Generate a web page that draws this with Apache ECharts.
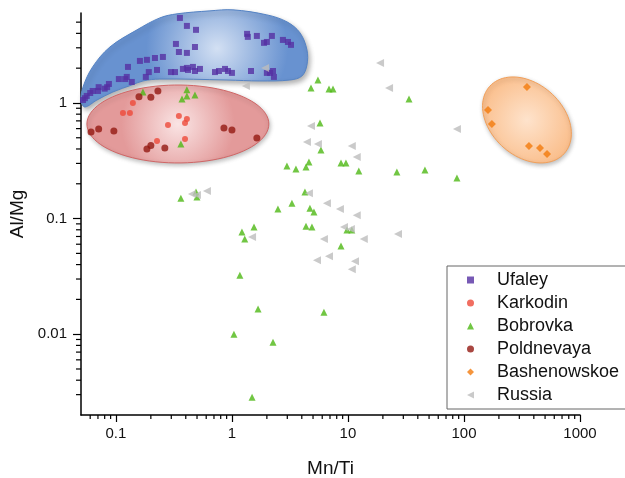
<!DOCTYPE html>
<html>
<head>
<meta charset="utf-8">
<title>Al/Mg vs Mn/Ti</title>
<script src="https://cdn.jsdelivr.net/npm/echarts@6/dist/echarts.min.js"></script>
<style>
  html, body { margin: 0; padding: 0; background: #fff; }
  #chart { width: 625px; height: 478px; }
</style>
</head>
<body>
<div id="chart"></div>
<script>
// points are [Mn/Ti, Al/Mg]
const ufaley = [[0.356,5.44],[0.409,4.64],[0.49,4.29],[0.329,3.24],[0.48,3.05],[0.349,2.76],[0.409,2.71],
  [0.254,2.5],[0.217,2.45],[0.185,2.36],[0.161,2.31],[0.127,2.05],[0.192,1.85],[0.226,1.93],[0.298,1.85],
  [0.323,1.85],[0.378,1.97],[0.409,2.01],[0.461,2.05],[0.48,1.89],[0.53,1.97],[0.418,1.93],[0.714,1.85],
  [0.773,1.89],[0.871,1.97],[0.924,1.89],[1.0,1.82],[1.46,1.89],[2.0,1.82],[2.26,1.89],[2.3,1.68],[2.13,1.82],
  [1.35,3.96],[1.37,3.73],[1.64,3.8],[2.21,3.8],[2.0,3.37],[1.89,3.31],[2.75,3.51],[3.04,3.37],[3.23,3.18],
  [0.181,1.68],[0.137,1.52],[0.106,1.61],[0.12,1.61],[0.124,1.68],[0.087,1.46],[0.084,1.37],[0.08,1.33],
  [0.071,1.37],[0.07,1.27],[0.063,1.27],[0.06,1.22],[0.056,1.15],[0.054,1.10],[0.052,1.06]];

const karkodin = [[0.14,1.0],[0.115,0.819],[0.132,0.819],[0.349,0.772],[0.409,0.727],[0.394,0.671],
  [0.281,0.645],[0.394,0.488],[0.226,0.469]];

const bobrovka = [[0.171,1.245],[0.409,1.30],[0.409,1.15],[0.371,1.08],[0.48,1.17],[0.363,0.442],[5.51,1.58],
  [4.80,1.35],[6.86,1.32],[7.43,1.32],[33.6,1.08],[5.74,0.671],[5.85,0.392],[2.98,0.285],[3.56,0.268],
  [4.35,0.279],[4.61,0.308],[8.71,0.303],[9.61,0.303],[12.4,0.258],[26.4,0.253],[46.1,0.263],[87,0.224],
  [4.26,0.170],[3.29,0.136],[2.49,0.121],[4.70,0.123],[5.09,0.114],[0.363,0.150],[0.49,0.17],[0.499,0.154],
  [1.22,0.0764],[1.55,0.0844],[1.29,0.0665],[4.35,0.086],[4.89,0.0844],[9.8,0.0795],[10.8,0.0795],
  [8.71,0.0578],[1.17,0.0324],[1.68,0.0165],[6.21,0.0155],[1.04,0.0100],[2.26,0.0085],[1.49,0.00285]];

const poldnevaya = [[0.23,1.27],[0.158,1.13],[0.2,1.12],[0.061,0.561],[0.071,0.596],[0.096,0.572],
  [0.185,0.40],[0.2,0.429],[0.264,0.408],[0.853,0.608],[1.0,0.584],[1.64,0.498]];

const bashenowskoe = [[349,1.375],[161,0.87],[174,0.658],[363,0.425],[452,0.408],[520,0.362]];

const russia = [[1.93,2.01],[1.32,1.40],[4.80,0.632],[4.43,0.459],[5.51,0.442],[18.9,2.22],[22.6,1.35],
  [87,0.596],[10.8,0.425],[11.9,0.341],[4.61,0.166],[6.59,0.136],[8.53,0.121],[0.609,0.173],[0.452,0.163],
  [0.499,0.160],[1.49,0.0692],[6.21,0.0665],[6.86,0.0473],[5.41,0.0437],[11.9,0.107],[9.24,0.0844],
  [10.6,0.0811],[13.7,0.0665],[27.0,0.0734],[11.5,0.0428],[10.8,0.0365]];

// shaded groupings, in data units
const ufaleyZone = [[0.05,1.04],[0.052,1.37],[0.063,2.05],[0.0888,3.05],[0.152,4.29],[0.239,5.44],[0.336,5.9],
  [0.646,6.26],[1.02,6.39],[2.0,5.78],[2.98,5.03],[3.86,4.04],[4.43,2.88],[4.43,2.13],[4.01,1.71],[3.16,1.58],
  [1.74,1.55],[0.906,1.58],[0.239,1.61],[0.171,1.55],[0.137,1.43],[0.0942,1.245],[0.0686,1.06],[0.054,0.923]];
// ellipse: centre, end of first semi-axis, end of second semi-axis
const karkodinZone = [[0.342,0.658],[2.08,0.658],[0.342,1.43]];
const bashenowskoeZone = [[349,0.713],[731,0.365],[216,0.418]];

const xMinorTicks = [0.06,0.07,0.08,0.09,0.2,0.3,0.4,0.5,0.6,0.7,0.8,0.9,2,3,4,5,6,7,8,9,
  20,30,40,50,60,70,80,90,200,300,400,500,600,700,800,900];
const yMinorTicks = [0.003,0.004,0.005,0.006,0.007,0.008,0.009,0.02,0.03,0.04,0.05,0.06,0.07,0.08,0.09,
  0.2,0.3,0.4,0.5,0.6,0.7,0.8,0.9,2,3,4,5];

const X_MIN = 0.05, X_MAX = 1000, Y_MIN = 0.002, Y_MAX = 6;
const FONT = '"Liberation Sans", Arial, sans-serif';
// left-pointing triangle for the legend (series symbol is rotated, legend icon is not)
const LEFT_TRIANGLE = 'path://M0,5L10,0L10,10Z';

function ellipsePoints(api, zone) {
  const c = api.coord(zone[0]), a = api.coord(zone[1]), b = api.coord(zone[2]);
  const ux = a[0] - c[0], uy = a[1] - c[1], vx = b[0] - c[0], vy = b[1] - c[1];
  const pts = [];
  for (let i = 0; i < 90; i++) {
    const t = i / 90 * Math.PI * 2;
    pts.push([c[0] + ux * Math.cos(t) + vx * Math.sin(t), c[1] + uy * Math.cos(t) + vy * Math.sin(t)]);
  }
  return pts;
}

function radial(inner, outer, cx, cy, r) {
  return {
    type: 'radial', x: cx, y: cy, r: r,
    colorStops: [{ offset: 0, color: inner }, { offset: 1, color: outer }]
  };
}

function zoneSeries(renderShape) {
  return {
    type: 'custom',
    data: [[1, 1]],
    silent: true,
    clip: false,
    z: 1,
    renderItem: renderShape
  };
}

function minorTickSeries(values, horizontal) {
  return {
    type: 'custom',
    silent: true,
    clip: false,
    z: 5,
    data: values.map(v => horizontal ? [v, Y_MIN] : [X_MIN, v]),
    renderItem: function (params, api) {
      const p = api.coord([api.value(0), api.value(1)]);
      const shape = horizontal
        ? { x1: p[0], y1: p[1], x2: p[0], y2: p[1] + 4 }
        : { x1: p[0], y1: p[1], x2: p[0] - 5, y2: p[1] };
      return { type: 'line', shape: shape, style: { stroke: '#000', lineWidth: 1.2 } };
    }
  };
}

function scatter(name, data, symbol, size, color, rotate) {
  return {
    name: name,
    type: 'scatter',
    data: data,
    symbol: symbol,
    symbolSize: size,
    symbolRotate: rotate || 0,
    z: 3,
    itemStyle: { color: color }
  };
}

// plain numbers on the log axes, no thousands separator
function logLabel(v) {
  return v >= 1 ? String(Math.round(v)) : String(+v.toPrecision(2));
}

const myChart = echarts.init(document.getElementById('chart'));

const option = {
  backgroundColor: '#fff',
  animation: false,
  grid: { left: 81, right: 45, top: 13, bottom: 63, containLabel: false, outerBoundsMode: 'none' },
  legend: {
    orient: 'vertical',
    left: 447,
    top: 266,
    padding: [5, 12, 5, 20],
    itemGap: 5,
    itemWidth: 7,
    itemHeight: 7,
    backgroundColor: '#fff',
    borderColor: '#666',
    borderWidth: 1,
    textStyle: { fontSize: 18, color: '#111', fontFamily: FONT, padding: [0, 0, 0, 18] },
    data: ['Ufaley', 'Karkodin', 'Bobrovka', 'Poldnevaya', 'Bashenowskoe', { name: 'Russia', icon: LEFT_TRIANGLE }]
  },
  xAxis: {
    type: 'log',
    min: X_MIN,
    max: X_MAX,
    name: 'Mn/Ti',
    nameLocation: 'middle',
    nameGap: 44,
    nameTextStyle: { fontSize: 19, color: '#111', fontFamily: FONT },
    axisLine: { lineStyle: { color: '#000', width: 1.5 } },
    axisTick: { length: 7, lineStyle: { color: '#000', width: 1.2 } },
    axisLabel: { fontSize: 15, color: '#111', fontFamily: FONT, margin: 11, showMinLabel: false, formatter: logLabel },
    splitLine: { show: false }
  },
  yAxis: {
    type: 'log',
    min: Y_MIN,
    max: Y_MAX,
    name: 'Al/Mg',
    nameLocation: 'middle',
    nameGap: 45,
    nameTextStyle: { fontSize: 19, color: '#111', fontFamily: FONT },
    axisLine: { lineStyle: { color: '#000', width: 1.5 } },
    axisTick: { length: 8, lineStyle: { color: '#000', width: 1.2 } },
    axisLabel: { fontSize: 15, color: '#111', fontFamily: FONT, margin: 14, showMinLabel: false, showMaxLabel: false, formatter: logLabel },
    splitLine: { show: false }
  },
  series: [
    zoneSeries(function (params, api) {
      return {
        type: 'polygon',
        shape: { points: ufaleyZone.map(p => api.coord(p)), smooth: 0.35 },
        style: {
          fill: radial('#d3e0f3', '#6892d0', 0.6, 0.4, 0.72),
          stroke: '#5583c4', lineWidth: 1,
          shadowBlur: 5, shadowOffsetX: 2, shadowOffsetY: 3, shadowColor: 'rgba(0,0,0,0.3)'
        }
      };
    }),
    zoneSeries(function (params, api) {
      return {
        type: 'polygon',
        shape: { points: ellipsePoints(api, karkodinZone) },
        style: {
          fill: radial('#fae4e4', '#e39a9a', 0.5, 0.5, 0.72),
          stroke: '#d06666', lineWidth: 1,
          shadowBlur: 4, shadowOffsetX: 1, shadowOffsetY: 2, shadowColor: 'rgba(0,0,0,0.25)'
        }
      };
    }),
    zoneSeries(function (params, api) {
      return {
        type: 'polygon',
        shape: { points: ellipsePoints(api, bashenowskoeZone) },
        style: {
          fill: radial('#fee3cc', '#f9b47a', 0.5, 0.5, 0.72),
          stroke: '#f2a05a', lineWidth: 1,
          shadowBlur: 4, shadowOffsetX: 1, shadowOffsetY: 2, shadowColor: 'rgba(0,0,0,0.25)'
        }
      };
    }),
    scatter('Ufaley', ufaley, 'rect', 6, '#5530a2'),
    scatter('Karkodin', karkodin, 'circle', 6, '#ee4a3a'),
    scatter('Bobrovka', bobrovka, 'triangle', 7, '#4db814'),
    scatter('Poldnevaya', poldnevaya, 'circle', 7, '#931912'),
    scatter('Bashenowskoe', bashenowskoe, 'diamond', 8, '#f27b0c'),
    scatter('Russia', russia, 'triangle', 8, '#bdbdbd', 90),
    minorTickSeries(xMinorTicks, true),
    minorTickSeries(yMinorTicks, false)
  ]
};

myChart.setOption(option);
</script>
</body>
</html>
